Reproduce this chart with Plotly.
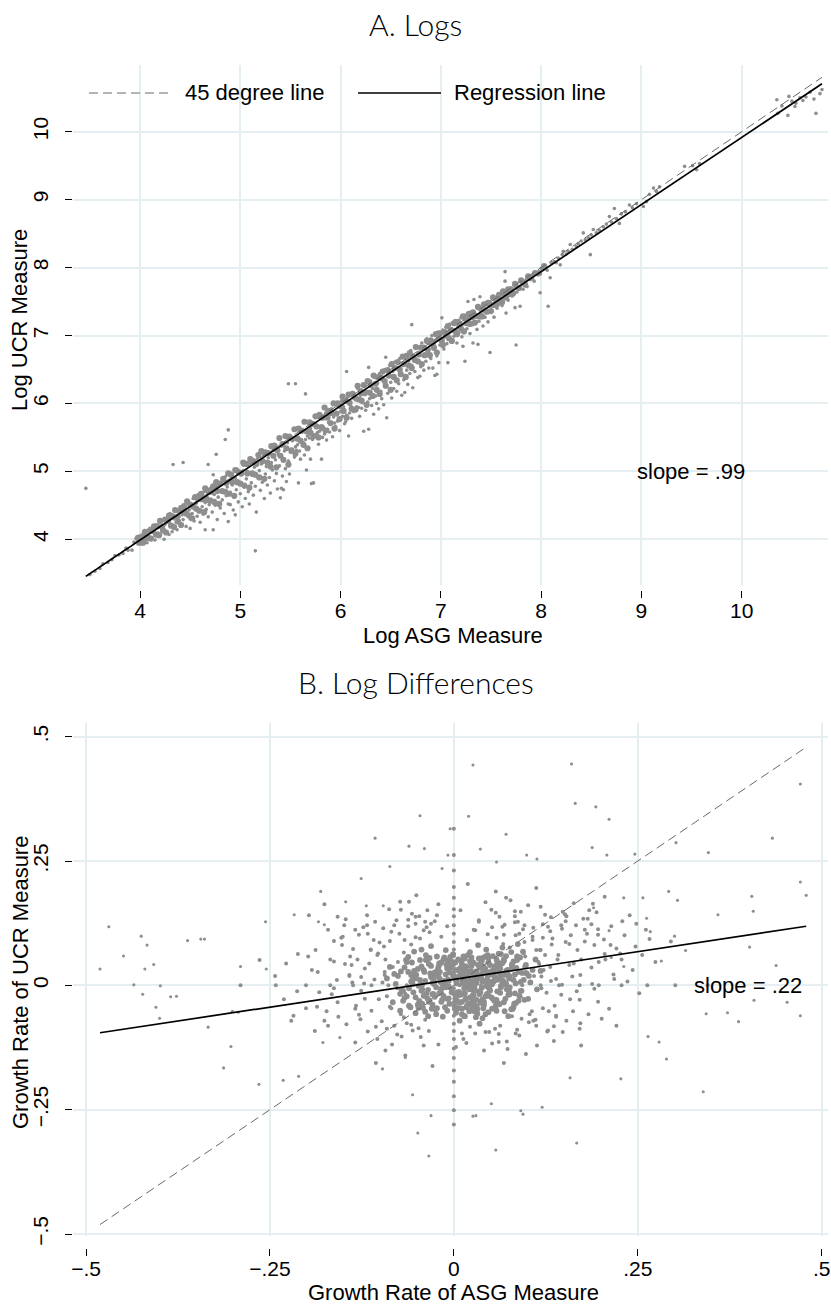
import plotly.graph_objects as go

# ---------------------------------------------------------------------------
# Panel A: log levels (ASG measure vs UCR measure)
# ---------------------------------------------------------------------------
log_asg_tail = [3.46, 3.50, 3.55, 3.60, 3.63, 3.68, 3.72, 3.75, 3.79, 3.83, 3.86, 3.88, 3.92, 3.94,
                3.96, 3.98, 4.00, 4.01, 4.03, 4.05, 4.06, 4.07, 4.09, 4.10, 4.12, 4.13, 4.15, 4.16,
                4.18, 4.19, 4.21, 4.22, 4.24, 4.25, 4.27, 4.28, 4.29, 4.88]
log_ucr_tail = [4.75, 3.48, 3.53, 3.57, 3.64, 3.66, 3.70, 3.76, 3.77, 3.79, 3.87, 3.84, 3.84, 3.96,
                4.01, 3.93, 4.05, 3.97, 4.08, 3.99, 4.12, 3.95, 4.04, 4.16, 4.02, 4.10, 3.99, 4.21,
                4.09, 4.05, 4.26, 4.13, 4.00, 4.22, 4.11, 4.33, 4.07, 5.61]

log_asg_low = [4.30, 4.31, 4.32, 4.33, 4.34, 4.35, 4.36, 4.37, 4.38, 4.39,
               4.40, 4.41, 4.42, 4.43, 4.43, 4.44, 4.45, 4.46, 4.47, 4.48,
               4.49, 4.50, 4.50, 4.51, 4.52, 4.53, 4.54, 4.55, 4.56, 4.57,
               4.58, 4.59, 4.60, 4.61, 4.62, 4.63, 4.64, 4.65, 4.65, 4.66,
               4.67, 4.68, 4.68, 4.69, 4.70, 4.71, 4.72, 4.73, 4.73, 4.74,
               4.75, 4.76, 4.76, 4.77, 4.78, 4.79, 4.80,
               4.81, 4.82, 4.83, 4.84, 4.85, 4.85, 4.86, 4.87, 4.88, 4.88,
               4.89, 4.90, 4.90, 4.91, 4.92, 4.93, 4.94, 4.95, 4.95, 4.96,
               4.97, 4.98, 4.99, 5.00, 5.01, 5.02, 5.03, 5.04, 5.05, 5.06,
               5.07, 5.08, 5.09, 5.10, 5.11, 5.12, 5.13, 5.14, 5.15, 5.15,
               5.16, 5.17, 5.18, 5.19, 5.20, 5.21, 5.22, 5.23, 5.24, 5.25,
               5.26, 5.27, 5.28, 5.29, 5.30, 5.31, 5.32, 5.33, 5.34, 5.35,
               5.36, 5.37, 5.38, 5.39, 5.40, 5.41, 5.41, 5.42, 5.43, 5.43,
               5.44, 5.45, 5.46, 5.47, 5.48, 5.48, 5.49, 5.50]
log_ucr_low = [4.38, 4.21, 4.11, 5.10, 4.30, 4.44, 4.25, 4.14, 4.40, 4.33,
               4.48, 4.22, 4.36, 5.13, 4.29, 4.50, 4.41, 4.19, 4.35, 4.55,
               4.43, 4.16, 4.30, 4.49, 4.38, 4.60, 4.27, 4.45, 4.53, 4.34,
               4.66, 4.42, 4.25, 4.57, 4.48, 4.37, 4.70, 4.14, 4.54, 4.44,
               4.62, 5.10, 4.33, 4.51, 4.75, 4.59, 4.40, 4.14, 4.95, 4.66,
               4.50, 5.25, 4.78, 4.29, 4.62, 4.71, 4.46,
               4.83, 4.58, 4.70, 4.38, 4.92, 5.47, 4.64, 4.77, 4.26, 4.52,
               4.86, 4.51, 4.69, 4.97, 4.80, 4.43, 4.62, 4.36, 4.90, 4.73,
               5.03, 4.55, 4.84, 4.67, 4.95, 4.48, 5.09, 4.77, 4.60, 4.89,
               5.00, 4.70, 4.52, 5.13, 4.83, 4.94, 4.65, 5.06, 3.83, 4.78,
               4.40, 5.18, 4.90, 5.01, 4.72, 5.11, 4.84, 5.25, 4.60, 4.96,
               5.07, 4.80, 5.20, 4.91, 4.68, 5.13, 5.02, 5.31, 4.86, 5.17,
               4.97, 4.74, 5.25, 5.08, 4.61, 4.75, 5.37, 4.93, 4.73, 5.19,
               5.30, 5.04, 4.85, 5.42, 6.29, 5.15, 4.96, 5.28]

log_asg_mid = [5.51, 5.52, 5.53, 5.54, 5.55, 5.55, 5.56, 5.57, 5.58, 5.58,
               5.59, 5.60, 5.61, 5.62, 5.63, 5.64, 5.65, 5.65, 5.66, 5.67,
               5.68, 5.69, 5.70, 5.70, 5.71, 5.72, 5.73, 5.74, 5.75, 5.76,
               5.77, 5.78, 5.79, 5.80, 5.81, 5.81, 5.82, 5.83, 5.84, 5.85,
               5.86, 5.87, 5.88, 5.89, 5.90, 5.91, 5.92, 5.93, 5.94, 5.95,
               5.96, 5.97, 5.98, 5.99, 6.00, 6.01, 6.02, 6.03, 6.04, 6.05,
               6.06, 6.06, 6.07, 6.08, 6.09, 6.10, 6.11, 6.12, 6.13, 6.14,
               6.15, 6.16, 6.17, 6.18, 6.19, 6.20, 6.21, 6.22, 6.23, 6.24,
               6.25, 6.26, 6.27, 6.28, 6.28, 6.29, 6.30,
               6.31, 6.32, 6.33, 6.34, 6.35, 6.36, 6.37, 6.38, 6.39, 6.40,
               6.41, 6.42, 6.43, 6.44, 6.45, 6.45, 6.46, 6.47, 6.48, 6.49,
               6.50, 6.51, 6.52, 6.53, 6.54, 6.55, 6.56, 6.57, 6.58, 6.59,
               6.60, 6.61, 6.62, 6.63, 6.64, 6.65, 6.66, 6.67, 6.68, 6.69,
               6.70, 6.71, 6.71, 6.72, 6.73, 6.74, 6.75, 6.76, 6.77, 6.78, 6.79,
               6.80, 6.81, 6.82, 6.83, 6.84, 6.85, 6.86, 6.87, 6.88, 6.89,
               6.90, 6.91, 6.92, 6.93, 6.94, 6.95, 6.96, 6.96, 6.97, 6.98, 6.99]
log_ucr_mid = [5.32, 5.45, 5.28, 5.21, 6.29, 5.36, 5.31, 5.39, 4.83, 5.50,
               5.30, 5.18, 5.43, 5.58, 5.42, 5.24, 6.14, 5.47, 5.02, 5.52,
               5.35, 5.49, 5.18, 5.63, 4.82, 5.47, 4.83, 5.52, 5.70, 5.55,
               5.57, 5.40, 5.59, 5.78, 5.62, 5.18, 5.50, 5.65, 5.55, 5.86,
               5.46, 5.62, 5.72, 5.58, 5.69, 5.92, 5.51, 5.80, 5.71, 5.66,
               5.98, 5.74, 5.75, 5.60, 5.88, 6.04, 5.81, 5.95, 5.70, 5.73,
               6.47, 5.83, 6.10, 5.52, 5.86, 5.97, 5.78, 6.16, 5.88, 5.91,
               6.05, 5.95, 6.22, 5.94, 5.81, 6.12, 5.93, 6.01, 5.59, 6.28,
               5.90, 6.18, 6.02, 6.53, 5.62, 6.07, 6.33,
               5.97, 6.22, 5.84, 6.38, 6.11, 6.00, 6.30, 5.92, 6.44, 6.18,
               6.07, 6.36, 5.98, 6.50, 6.68, 6.27, 5.79, 6.15, 6.42, 6.56,
               6.31, 6.08, 6.47, 6.22, 6.61, 6.37, 6.18, 6.53, 6.29, 6.66,
               6.43, 6.12, 6.58, 6.35, 6.16, 6.72, 6.49, 6.28, 6.63, 6.44,
               6.78, 7.16, 6.56, 6.23, 6.69, 6.47, 6.84, 6.61, 6.38, 6.75, 6.40,
               6.54, 6.89, 6.70, 6.49, 6.81, 6.62, 6.95, 6.74, 6.52, 6.87,
               6.66, 7.00, 6.52, 6.80, 6.41, 6.93, 6.70, 6.43, 7.05, 6.60, 6.86]

log_asg_high = [7.01, 7.01, 7.02, 7.03, 7.04, 7.05, 7.06, 7.07, 7.08, 7.09,
                7.10, 7.12, 7.13, 7.14, 7.16, 7.17, 7.18, 7.20, 7.21, 7.22,
                7.23, 7.24, 7.25, 7.26, 7.27, 7.28, 7.29, 7.30, 7.32, 7.32,
                7.33, 7.34, 7.36, 7.37, 7.37, 7.38, 7.39, 7.40, 7.42, 7.43,
                7.44, 7.46, 7.47, 7.49, 7.49, 7.50, 7.52, 7.53, 7.55, 7.56,
                7.58, 7.60, 7.61, 7.63, 7.64, 7.64, 7.65, 7.66, 7.67, 7.69,
                7.71, 7.72, 7.73, 7.74, 7.75, 7.75, 7.76, 7.78, 7.79, 7.80,
                7.82, 7.85, 7.86, 7.89, 7.91, 7.93, 7.95, 7.97, 7.99, 8.00,
                8.02, 8.04, 8.06, 8.07, 8.09, 8.10, 8.13, 8.15, 8.17, 8.19,
                8.21, 8.22, 8.25, 8.27, 8.29, 8.31, 8.35, 8.37, 8.40, 8.42,
                8.44, 8.47, 8.49, 8.50, 8.52, 8.55, 8.58, 8.62, 8.65, 8.68,
                8.70, 8.73, 8.75, 8.78, 8.80, 8.84, 8.88, 8.91, 8.95, 9.02,
                9.05, 9.08, 9.12, 9.15, 9.18,
                9.43, 9.51, 9.55, 9.58, 10.35, 10.36, 10.40, 10.46, 10.47, 10.50,
                10.53, 10.54, 10.58, 10.61, 10.64, 10.68, 10.72, 10.74, 10.78, 10.80]
log_ucr_high = [7.26, 6.95, 7.08, 6.80, 6.98, 7.12, 6.88, 6.60, 7.03, 7.17,
                6.92, 7.08, 6.99, 7.22, 6.89, 7.13, 7.04, 7.26, 6.98, 6.84,
                7.17, 6.62, 7.30, 7.10, 7.50, 7.22, 7.03, 7.34, 7.16, 6.89,
                7.53, 7.28, 7.09, 6.87, 7.40, 7.21, 7.57, 7.32, 7.14, 7.44,
                7.27, 7.38, 7.20, 6.75, 7.50, 7.35, 7.45, 7.27, 7.56, 7.40,
                7.50, 7.60, 7.44, 7.55, 7.94, 7.80, 7.33, 7.65, 7.52, 7.70,
                7.58, 7.63, 7.74, 7.41, 7.77, 6.86, 7.64, 7.71, 7.43, 7.79,
                7.68, 7.82, 7.72, 7.82, 7.88, 7.80, 7.92, 7.89, 7.63, 7.99,
                7.97, 8.01, 7.96, 7.43, 7.85, 8.07, 8.09, 8.07, 8.14, 8.04,
                8.19, 8.24, 8.20, 8.24, 8.34, 8.27, 8.31, 8.35, 8.39, 8.51,
                8.41, 8.44, 8.19, 8.48, 8.56, 8.51, 8.55, 8.60, 8.64, 8.75,
                8.67, 8.87, 8.72, 8.65, 8.79, 8.82, 8.92, 8.88, 8.94, 8.90,
                8.97, 9.08, 9.17, 9.12, 9.19,
                9.49, 9.50, 9.44, 9.53, 10.47, 10.27, 10.38, 10.24, 10.52, 10.45,
                10.37, 10.42, 10.50, 10.46, 10.51, 10.58, 10.48, 10.27, 10.56, 10.62]

# densely populated band hugging the diagonal
log_asg_band = [3.98, 4.00, 4.02, 4.03, 4.05, 4.06, 4.08, 4.10, 4.11, 4.13,
                4.14, 4.16, 4.17, 4.19, 4.20, 4.22, 4.23, 4.25, 4.26, 4.28,
                4.29, 4.31, 4.32, 4.34, 4.35, 4.37, 4.38, 4.40, 4.41, 4.43,
                4.44, 4.46, 4.47, 4.49, 4.50, 4.52, 4.53, 4.55, 4.56, 4.58,
                4.59, 4.61, 4.62, 4.64, 4.65, 4.67, 4.68, 4.70, 4.71, 4.73,
                4.74, 4.76, 4.77, 4.79, 4.80, 4.82, 4.83, 4.85, 4.86, 4.88,
                4.89, 4.91, 4.92, 4.94, 4.95, 4.97, 4.98, 5.00, 5.01, 5.03,
                5.04, 5.06, 5.07, 5.09, 5.10, 5.12, 5.13, 5.15, 5.16, 5.18,
                5.19, 5.21, 5.22, 5.24, 5.25, 5.27, 5.28, 5.30, 5.31, 5.33,
                5.34, 5.36, 5.37, 5.39, 5.40, 5.42, 5.43, 5.45, 5.46, 5.48,
                5.49, 5.51, 5.52, 5.54, 5.55, 5.57, 5.58, 5.60, 5.61, 5.63,
                5.64, 5.66, 5.67, 5.69, 5.70, 5.72, 5.73, 5.75, 5.76, 5.78,
                5.79, 5.81, 5.82, 5.84, 5.85, 5.87, 5.88, 5.90, 5.91, 5.93,
                5.94, 5.96, 5.97, 5.99, 6.00, 6.02, 6.03, 6.05, 6.06, 6.08,
                6.09, 6.11, 6.12, 6.14, 6.15, 6.17, 6.18, 6.20, 6.21, 6.23,
                6.24, 6.26, 6.27, 6.29, 6.30, 6.32, 6.33, 6.35, 6.36, 6.38,
                6.39, 6.41, 6.42, 6.44, 6.45, 6.47, 6.48, 6.50, 6.51, 6.53,
                6.54, 6.56, 6.57, 6.59, 6.60, 6.62, 6.63, 6.65, 6.66, 6.68,
                6.69, 6.71, 6.72, 6.74, 6.75, 6.77, 6.78, 6.80, 6.81, 6.83,
                6.84, 6.86, 6.87, 6.89, 6.90, 6.92, 6.93, 6.95, 6.96, 6.98,
                6.99, 7.01, 7.02, 7.04, 7.05, 7.07, 7.08, 7.10, 7.11, 7.13,
                7.14, 7.16, 7.17, 7.19, 7.20, 7.22, 7.23, 7.25, 7.26, 7.28,
                7.29, 7.31, 7.32, 7.34, 7.35, 7.37, 7.38, 7.40, 7.41, 7.43,
                7.44, 7.46, 7.47, 7.49, 7.50, 7.52, 7.53, 7.55, 7.56, 7.58,
                7.59, 7.61, 7.62, 7.64, 7.65, 7.67, 7.68, 7.70, 7.72, 7.74,
                7.76, 7.78, 7.80, 7.82, 7.84, 7.87, 7.90, 7.94, 7.98, 8.03]
log_ucr_band = [4.02, 3.95, 4.03, 3.95, 4.11, 4.04, 4.02, 4.13, 4.01, 4.13,
                4.19, 4.07, 4.19, 4.06, 4.27, 4.18, 4.13, 4.29, 4.10, 4.27,
                4.35, 4.20, 4.34, 4.18, 4.43, 4.33, 4.26, 4.43, 4.21, 4.41,
                4.49, 4.38, 4.56, 4.35, 4.51, 4.31, 4.48, 4.62, 4.45, 4.60,
                4.42, 4.67, 4.59, 4.40, 4.75, 4.58, 4.71, 4.57, 4.70, 4.78,
                4.55, 4.84, 4.71, 4.52, 4.82, 4.71, 4.89, 4.70, 4.83, 4.97,
                4.67, 4.95, 4.84, 4.64, 5.02, 4.84, 4.99, 4.82, 4.97, 5.13,
                4.79, 5.11, 4.97, 4.76, 5.18, 4.97, 5.15, 4.95, 5.11, 5.24,
                4.91, 5.30, 5.15, 4.89, 5.28, 5.13, 5.27, 5.07, 5.37, 5.23,
                5.38, 5.06, 5.31, 5.49, 5.23, 5.40, 5.17, 5.52, 5.34, 5.10,
                5.51, 5.31, 5.48, 5.62, 5.26, 5.48, 5.63, 5.45, 5.60, 5.39,
                5.73, 5.59, 5.34, 5.72, 5.57, 5.70, 5.52, 5.81, 5.66, 5.50,
                5.83, 5.65, 5.79, 5.94, 5.60, 5.79, 5.89, 5.71, 5.86, 6.00,
                5.63, 5.85, 6.00, 5.77, 5.96, 6.10, 5.89, 6.04, 5.79, 6.13,
                6.01, 5.92, 6.14, 6.09, 5.91, 6.26, 6.06, 6.18, 6.04, 6.27,
                6.15, 5.98, 6.33, 6.16, 6.27, 6.11, 6.41, 6.29, 6.20, 6.39,
                6.14, 6.37, 6.47, 6.33, 6.26, 6.49, 6.41, 6.20, 6.58, 6.39,
                6.52, 6.34, 6.61, 6.50, 6.43, 6.69, 6.58, 6.39, 6.67, 6.56,
                6.74, 6.52, 6.69, 6.64, 6.83, 6.62, 6.72, 6.82, 6.58, 6.82,
                6.71, 6.92, 6.79, 6.71, 6.93, 6.88, 6.82, 7.02, 6.75, 6.96,
                7.03, 6.92, 6.86, 7.05, 7.00, 7.14, 6.96, 7.08, 6.92, 7.18,
                7.07, 7.02, 7.20, 7.16, 7.10, 7.28, 7.06, 7.24, 7.18, 7.32,
                7.17, 7.27, 7.34, 7.19, 7.29, 7.42, 7.28, 7.39, 7.28, 7.46,
                7.37, 7.35, 7.48, 7.45, 7.36, 7.56, 7.45, 7.53, 7.46, 7.60,
                7.53, 7.49, 7.65, 7.61, 7.56, 7.68, 7.61, 7.68, 7.62, 7.76,
                7.71, 7.70, 7.81, 7.78, 7.75, 7.87, 7.85, 7.92, 7.92, 8.02]

log_slope, log_intercept = 0.988, 0.036
log_ticks = [4, 5, 6, 7, 8, 9, 10]

# ---------------------------------------------------------------------------
# Panel B: log differences (growth rates)
# ---------------------------------------------------------------------------
gr_asg_core = [0.012, -0.021, 0.034, 0.006, -0.043, 0.051, -0.009, 0.027, -0.031, 0.064,
               0.018, -0.056, 0.041, -0.014, 0.073, -0.067, 0.003, 0.058, -0.038, 0.022,
               -0.025, 0.047, 0.081, -0.072, 0.009, -0.003, 0.031, -0.049, 0.068, 0.015,
               -0.018, 0.038, 0.055, -0.061, 0.026, -0.034, 0.076, 0.002, -0.011, 0.044,
               0.093, -0.079, 0.061, 0.029, -0.046, 0.017, -0.028, 0.052, 0.086, -0.007,
               0.036, -0.052, 0.071, 0.011, -0.019, 0.043, -0.064, 0.098, 0.024, -0.039,
               0.005, 0.063, -0.026, 0.049, -0.073, 0.084, 0.019, -0.012, 0.033, -0.087,
               0.104, -0.004, 0.057, -0.035, 0.039, 0.091, -0.058, 0.013, 0.069, -0.017,
               0.028, -0.044, 0.046, 0.078, -0.023, 0.008, 0.111, -0.069, 0.037, -0.001,
               0.054, 0.021, -0.041, 0.066, -0.083, 0.101, 0.016, -0.031, 0.074, -0.006,
               0.042, -0.054, 0.087, 0.031, -0.015, 0.059, -0.091, 0.118, 0.004, -0.048,
               0.023, 0.062, -0.027, 0.094, 0.047, -0.062, 0.011, 0.079, -0.008, 0.035,
               0.007, 0.029, -0.016, 0.044, -0.002, 0.021, 0.056, -0.029, 0.035, 0.014,
               -0.037, 0.063, 0.001, 0.048, -0.022, 0.027, 0.072, -0.047, 0.011, 0.039,
               -0.011, 0.053, 0.019, -0.058, 0.083, 0.004, -0.032, 0.032, 0.066, -0.006,
               0.024, -0.042, 0.046, 0.089, -0.019, 0.016, 0.058, -0.071, 0.036, 0.009,
               -0.026, 0.075, 0.003, 0.041, -0.051, 0.068, 0.022, -0.009, 0.097, 0.013,
               -0.034, 0.052, -0.064, 0.030, 0.081, -0.004, 0.045, -0.018, 0.062, 0.017,
               -0.045, 0.008, 0.038, -0.013, 0.071, -0.076, 0.026, 0.049, -0.029, 0.091,
               0.002, 0.034, -0.055, 0.059, 0.018, -0.021, 0.078, -0.039, 0.043, 0.011,
               0.055, -0.008, 0.026, -0.067, 0.086, 0.039, -0.024, 0.064, 0.006, -0.041,
               0.102, 0.031, -0.014, 0.047, -0.059, 0.073, 0.015, -0.031, 0.057, 0.024,
               -0.003, 0.067, -0.048, 0.037, 0.092, 0.012, -0.036, 0.051, 0.019, -0.017,
               0.079, 0.028, -0.062, 0.044, 0.005, 0.061, -0.027, 0.096, 0.033, -0.011,
               0.048, 0.016, -0.043, 0.069, 0.022, -0.005, 0.084, -0.052, 0.038, 0.009,
               0.058, -0.020, 0.027, 0.074, -0.038, 0.041, 0.003, 0.064, -0.069, 0.018,
               0.035, -0.009, 0.052, -0.030, 0.088, 0.011, 0.045, -0.015, 0.070, 0.023,
               -0.046, 0.062, 0.004, 0.033, -0.024, 0.081, 0.017, -0.057, 0.049, 0.028,
               -0.001, 0.057, -0.035, 0.076, 0.013, 0.040, -0.019, 0.095, 0.029, -0.052,
               0.066, 0.008, 0.043, -0.028, 0.019, 0.082, -0.007, 0.054, -0.044, 0.031,
               0.107, -0.073, 0.025, 0.060, -0.012, 0.039, 0.014, -0.033, 0.076, 0.002,
               0.050, -0.023, 0.085, 0.020, -0.056, 0.032, 0.065, -0.007, 0.043, 0.113,
               -0.040, 0.010, 0.055, -0.017, 0.071, 0.026, -0.065, 0.047, 0.006, 0.090,
               0.037, -0.029, 0.063, 0.015, -0.049, 0.078, 0.021, -0.010, 0.058, 0.030,
               -0.081, 0.045, 0.003, 0.068, -0.025, 0.036, 0.099, -0.044, 0.012, 0.059,
               0.025, -0.014, 0.083, 0.040, -0.061, 0.016, 0.053, -0.002, 0.070, 0.034,
               -0.033, 0.088, 0.009, 0.047, -0.020, 0.064, 0.022, -0.054, 0.039, 0.075]
gr_ucr_core = [0.004, 0.018, -0.012, 0.031, -0.008, 0.022, -0.027, 0.045, 0.039, -0.004,
               -0.041, 0.012, 0.009, 0.052, 0.031, -0.025, -0.055, -0.029, 0.061, 0.067,
               -0.048, 0.054, 0.011, 0.028, 0.021, -0.014, 0.027, 0.033, 0.049, -0.062,
               0.007, -0.031, 0.038, -0.041, -0.019, -0.033, -0.018, 0.046, 0.071, 0.072,
               0.025, 0.003, 0.064, 0.012, 0.051, 0.038, -0.017, -0.047, 0.058, 0.009,
               0.043, -0.056, 0.004, -0.033, 0.043, -0.058, 0.047, 0.041, 0.056, 0.009,
               -0.021, 0.019, 0.026, -0.009, -0.051, -0.036, 0.015, -0.044, 0.081, 0.037,
               0.006, 0.036, 0.029, -0.062, -0.066, -0.011, 0.021, 0.058, -0.052, -0.007,
               -0.004, 0.072, 0.061, 0.067, 0.058, -0.071, 0.052, -0.011, 0.016, 0.063,
               0.008, -0.052, -0.021, 0.076, -0.034, -0.027, 0.001, 0.079, -0.062, 0.026,
               0.034, 0.068, 0.083, -0.043, -0.063, 0.047, 0.014, 0.029, 0.011, -0.045,
               0.029, -0.038, 0.003, 0.068, -0.021, 0.057, -0.017, 0.042, 0.049, -0.077,
               -0.013, 0.016, -0.029, -0.001, 0.024, -0.036, 0.013, 0.006, 0.037, -0.006,
               -0.016, 0.034, -0.042, 0.026, 0.031, -0.021, -0.008, -0.031, 0.043, 0.008,
               -0.004, -0.027, 0.027, 0.008, 0.022, 0.004, 0.024, -0.048, 0.045, -0.037,
               0.009, -0.045, 0.018, -0.021, 0.013, -0.026, 0.052, -0.009, -0.014, 0.035,
               -0.023, 0.014, 0.017, -0.039, 0.021, -0.034, 0.048, -0.051, 0.038, 0.021,
               0.043, 0.003, -0.022, 0.028, -0.044, 0.041, -0.017, -0.012, 0.027, -0.044,
               0.002, 0.029, -0.005, 0.056, 0.059, 0.019, -0.031, 0.041, -0.039, 0.007,
               -0.027, 0.054, -0.014, -0.012, 0.002, 0.037, 0.033, -0.053, 0.032, -0.058,
               0.018, 0.012, -0.009, 0.036, 0.051, -0.028, -0.004, -0.001, 0.052, 0.031,
               0.019, 0.005, -0.021, 0.046, -0.044, 0.024, -0.016, 0.017, -0.041, 0.039,
               -0.008, 0.009, -0.001, 0.021, -0.011, 0.028, -0.026, -0.024, 0.061, 0.046,
               0.041, -0.039, 0.027, 0.006, -0.032, 0.037, 0.009, -0.029, 0.014, 0.022,
               -0.006, 0.032, -0.037, 0.021, -0.024, 0.057, 0.004, 0.014, 0.049, -0.019,
               -0.051, -0.016, 0.022, -0.019, 0.051, -0.033, 0.009, 0.063, -0.031, 0.017,
               -0.018, 0.034, 0.029, -0.047, 0.027, -0.047, 0.011, 0.002, -0.027, 0.025,
               0.011, 0.016, -0.014, 0.041, -0.058, 0.048, 0.007, 0.046, -0.011, -0.052,
               0.019, 0.038, -0.009, -0.004, 0.039, -0.046, 0.027, 0.011, -0.011, -0.024,
               0.005, -0.035, 0.058, 0.014, -0.003, -0.037, -0.026, 0.022, 0.038, -0.029,
               0.031, -0.017, 0.047, -0.036, 0.005, 0.025, -0.062, 0.055, 0.018, 0.031,
               0.007, -0.046, 0.035, 0.015, 0.003, -0.057, 0.044, -0.002, -0.022, -0.008,
               0.027, 0.049, -0.031, -0.033, 0.029, 0.003, 0.051, -0.004, -0.046, 0.056,
               0.035, -0.018, -0.015, 0.054, -0.039, -0.048, -0.008, 0.041, 0.011, -0.064,
               0.023, 0.026, -0.021, 0.052, 0.021, -0.035, 0.024, -0.011, 0.013, 0.031,
               -0.045, 0.009, -0.016, 0.038, -0.006, -0.029, 0.059, 0.047, 0.002, 0.019,
               -0.030, -0.031, 0.026, -0.054, 0.044, 0.012, -0.001, 0.029, 0.055, -0.012]

gr_asg_halo = [-0.121, 0.142, -0.098, 0.167, -0.152, 0.128, -0.074, 0.187, -0.133, 0.153,
               -0.108, 0.121, 0.204, -0.166, 0.096, -0.087, 0.139, -0.117, 0.176, -0.141,
               0.061, -0.045, 0.083, -0.062, 0.112, 0.228, -0.185, 0.159, -0.102, 0.196,
               -0.078, 0.034, -0.023, 0.072, -0.129, 0.247, -0.201, 0.133, 0.013, -0.056,
               0.168, -0.157, 0.107, -0.093, 0.214, -0.171, 0.051, 0.092, -0.138, 0.183,
               -0.212, 0.236, 0.118, -0.039, 0.003, -0.084, 0.148, 0.261, -0.243, 0.077,
               -0.118, 0.194, -0.066, 0.041, 0.131, -0.189, 0.221, 0.163, -0.147, 0.109,
               -0.231, 0.274, 0.057, -0.021, 0.098, -0.106, 0.205, -0.176, 0.146, -0.051,
               0.188, -0.094, 0.126, -0.134, 0.239, -0.264, 0.019, 0.173, -0.029, 0.084,
               0.295, -0.197, 0.112, -0.073, 0.157, -0.159, 0.068, 0.252, -0.221, 0.027,
               -0.085, 0.095, -0.113, 0.137, 0.066, -0.067, 0.117, -0.048, 0.152, -0.126,
               0.106, -0.096, 0.089, -0.139, 0.178, 0.124, -0.077, 0.161, 0.058, -0.104,
               0.086, -0.057, 0.148, 0.205, -0.163, 0.115, 0.043, -0.033, 0.171, -0.088,
               0.232, -0.183, 0.062, 0.136, -0.118, 0.191, 0.009, -0.146, 0.217, -0.009,
               -0.142, 0.173, -0.112, 0.158, -0.095, 0.121, -0.068, 0.196, -0.127, 0.139,
               -0.163, 0.108, 0.221, -0.186, 0.083, -0.081, 0.147, -0.104, 0.184, -0.153,
               0.073, -0.041, 0.101, -0.052, 0.127, 0.243, -0.198, 0.166, -0.091, 0.211,
               -0.072, 0.052, -0.031, 0.084, -0.137, 0.266, -0.218, 0.118, 0.029, -0.064,
               0.157, -0.171, 0.096, -0.115, 0.229, -0.149, 0.043, 0.103, -0.126, 0.172,
               -0.193, 0.218, 0.132, -0.052, 0.017, -0.093, 0.136, 0.248, -0.228, 0.091,
               -0.107, 0.182, -0.077, 0.061, 0.141, -0.176, 0.201, 0.151, -0.134, 0.122,
               -0.213, 0.256, 0.071, -0.036, 0.113, -0.091, 0.189, -0.158, 0.131, -0.061,
               -0.131, 0.112, -0.087, 0.146, -0.058, 0.094, -0.109, 0.163, -0.072, 0.129,
               -0.097, 0.079, 0.178, -0.121, 0.068, -0.046, 0.119, -0.081, 0.152, -0.113,
               0.056, -0.034, 0.087, -0.041, 0.102, 0.197, -0.148, 0.134, -0.066, 0.171,
               -0.052, 0.046, -0.017, 0.063, -0.103, 0.213, -0.158, 0.097, 0.022, -0.039,
               0.124, -0.129, 0.076, -0.083, 0.181, -0.117, 0.034, 0.081, -0.094, 0.139,
               -0.142, 0.172, 0.108, -0.037, 0.011, -0.071, 0.111, 0.196, -0.168, 0.069,
               -0.085, 0.147, -0.058, 0.048, 0.116, -0.134, 0.162, 0.121, -0.101, 0.098,
               -0.163, 0.206, 0.057, -0.026, 0.089, -0.068, 0.153, -0.123, 0.107, -0.047,
               0.132, -0.076, 0.091, -0.106, 0.187, -0.188, 0.029, 0.128, -0.021, 0.067,
               0.226, -0.151, 0.083, -0.062, 0.119, -0.122, 0.052, 0.191, -0.173, 0.018]
gr_ucr_halo = [0.034, 0.061, -0.072, -0.012, 0.081, 0.118, 0.104, 0.036, -0.041, -0.071,
               0.012, -0.046, 0.092, -0.018, 0.121, 0.089, 0.013, -0.093, 0.134, 0.058,
               -0.098, -0.104, 0.139, 0.119, -0.081, 0.052, 0.027, 0.101, -0.028, -0.033,
               0.131, 0.128, 0.141, -0.113, 0.102, 0.078, -0.046, 0.082, -0.108, -0.091,
               0.071, -0.063, 0.098, 0.052, 0.119, 0.112, 0.152, -0.067, 0.006, -0.058,
               0.063, 0.008, 0.158, 0.128, -0.124, -0.119, -0.094, 0.112, 0.019, 0.171,
               0.141, 0.147, -0.141, -0.131, 0.037, -0.092, -0.081, 0.165, 0.133, 0.019,
               -0.028, 0.047, 0.189, 0.163, -0.138, -0.156, 0.178, 0.163, 0.121, 0.181,
               0.003, 0.027, -0.015, -0.115, 0.141, 0.051, 0.204, -0.121, -0.162, 0.101,
               0.088, 0.141, 0.196, 0.168, 0.041, 0.011, -0.156, -0.016, -0.071, 0.112,
               -0.046, 0.064, 0.072, -0.041, 0.118, 0.091, 0.071, -0.086, 0.087, -0.011,
               -0.052, 0.115, 0.104, 0.041, 0.112, 0.142, -0.006, 0.018, 0.096, 0.061,
               -0.089, 0.144, 0.148, 0.063, 0.089, 0.047, -0.094, 0.107, -0.087, 0.153,
               0.101, -0.014, 0.138, -0.112, 0.121, 0.081, 0.151, -0.078, 0.022, 0.119,
               0.021, 0.052, -0.051, -0.028, 0.078, 0.096, 0.066, 0.102, -0.068, -0.061,
               0.048, -0.071, 0.074, -0.043, 0.127, 0.121, 0.001, -0.108, 0.151, 0.096,
               -0.128, -0.121, 0.161, 0.097, -0.093, 0.031, 0.058, 0.121, -0.022, -0.047,
               0.152, 0.117, 0.124, -0.097, 0.073, 0.093, -0.061, 0.071, -0.097, -0.076,
               0.083, -0.081, 0.087, 0.044, 0.129, 0.121, 0.167, -0.058, 0.017, -0.076,
               0.031, 0.013, 0.137, 0.138, -0.116, -0.131, -0.082, 0.124, 0.044, 0.148,
               0.128, 0.134, -0.099, -0.114, 0.052, -0.071, -0.067, 0.143, 0.112, 0.031,
               -0.012, 0.061, 0.176, 0.151, -0.121, -0.087, 0.164, 0.138, 0.109, 0.168,
               0.052, 0.071, -0.043, -0.019, 0.082, 0.113, 0.091, 0.044, -0.058, -0.052,
               0.006, -0.062, 0.088, -0.027, 0.102, 0.094, -0.006, -0.081, 0.129, 0.071,
               -0.087, -0.092, 0.128, 0.111, -0.074, 0.047, 0.043, 0.094, -0.017, -0.029,
               0.124, 0.103, 0.098, -0.081, 0.064, 0.081, -0.034, 0.058, -0.083, -0.069,
               0.061, -0.059, 0.076, 0.037, 0.104, 0.104, 0.131, -0.049, 0.021, -0.063,
               0.019, 0.021, 0.116, 0.117, -0.097, -0.103, -0.069, 0.113, 0.052, 0.122,
               0.108, 0.114, -0.079, -0.094, 0.043, -0.047, -0.052, 0.123, 0.086, 0.027,
               -0.006, 0.052, 0.146, 0.129, -0.101, -0.064, 0.139, 0.117, 0.091, 0.139,
               0.009, 0.047, -0.023, -0.083, 0.123, 0.071, 0.111, -0.091, -0.119, 0.083,
               0.064, 0.098, 0.149, 0.132, 0.018, 0.004, -0.117, -0.007, -0.052, 0.091]

# observations with no change in one of the two measures
gr_ucr_at_zero_asg = [0.315, 0.262, 0.231, 0.198, 0.176, 0.153, 0.139, 0.121, 0.104, 0.087,
                      0.072, 0.059, 0.041, 0.024, 0.013, -0.006, -0.019, -0.034, -0.048, -0.061,
                      -0.077, -0.092, -0.108, -0.127, -0.146, -0.171, -0.194, -0.223, -0.251, -0.280]
gr_asg_at_zero_ucr = [-0.290, -0.242, -0.201, -0.168, -0.137, -0.112, -0.089, -0.064, -0.042, -0.026,
                      -0.013, 0.008, 0.021, 0.037, 0.052, 0.071, 0.093, 0.118, 0.143, 0.171,
                      0.197, 0.228, 0.263, 0.301, 0.345]

gr_asg_tail = [0.026, 0.160, 0.471, -0.046, 0.020, 0.165, 0.193, 0.211, 0.071, -0.107,
               0.433, -0.061, -0.005, -0.008, 0.036, -0.040, 0.099, 0.113, 0.188, 0.208,
               0.246, 0.302, 0.346, -0.016, 0.058, -0.087, -0.126, 0.471, -0.181, 0.405,
               0.257, 0.292, 0.407, 0.359, -0.256, -0.147, -0.096, -0.119, -0.217, -0.184,
               -0.176, -0.469, -0.417, -0.344, -0.339, -0.362, -0.449, -0.420, -0.481, -0.290,
               -0.255, -0.408, -0.425, -0.435, -0.399, -0.377, -0.423, -0.385, -0.405, -0.301,
               -0.334, -0.400, -0.293, -0.313, -0.303, -0.265, -0.232, -0.211, -0.155, -0.178,
               -0.097, -0.066, -0.056, -0.049, -0.034, 0.026, 0.030, 0.057, 0.091, 0.167,
               0.094, -0.031, 0.120, 0.051, 0.158, 0.227, 0.289, 0.339, 0.279, 0.264,
               0.343, 0.387, 0.372, 0.471, 0.453, 0.408, 0.402, 0.438, 0.315, 0.282,
               0.267, 0.300, 0.214, 0.231, 0.211, 0.262, 0.190, 0.231, 0.479, 0.304]
gr_ucr_tail = [0.443, 0.445, 0.405, 0.341, 0.340, 0.366, 0.359, 0.334, 0.304, 0.296,
               0.296, 0.280, 0.315, 0.262, 0.274, 0.275, 0.262, 0.254, 0.277, 0.262,
               0.264, 0.287, 0.267, 0.235, 0.248, 0.239, 0.215, 0.208, 0.189, 0.179,
               0.176, 0.189, 0.149, 0.142, 0.128, 0.168, 0.160, 0.160, 0.142, 0.128,
               0.122, 0.118, 0.081, 0.093, 0.093, 0.090, 0.059, 0.033, 0.033, 0.038,
               0.033, 0.042, 0.099, 0.001, -0.001, -0.022, -0.018, -0.023, -0.044, -0.052,
               -0.084, -0.066, -0.054, -0.166, -0.123, -0.199, -0.191, -0.183, -0.105, -0.115,
               -0.168, -0.145, -0.220, -0.297, -0.343, -0.263, -0.262, -0.331, -0.252, -0.317,
               -0.259, -0.262, -0.245, -0.238, -0.186, -0.188, -0.148, -0.214, -0.114, -0.103,
               -0.057, -0.073, -0.055, -0.061, -0.034, -0.030, 0.077, 0.040, 0.070, 0.049,
               0.108, 0.099, 0.056, 0.038, 0.110, 0.135, 0.156, 0.176, 0.181, 0.171,
               0.064, 0.310]

diff_slope, diff_intercept = 0.223, 0.012
diff_ticks = [-0.5, -0.25, 0, 0.25, 0.5]
diff_tick_text = ["\u2212.5", "\u2212.25", "0", ".25", ".5"]

# ---------------------------------------------------------------------------
# assemble series: dense cores get slightly larger dots so they read as solid
# ---------------------------------------------------------------------------
log_asg_sparse = log_asg_tail + log_asg_low + log_asg_mid + log_asg_high
log_ucr_sparse = log_ucr_tail + log_ucr_low + log_ucr_mid + log_ucr_high
log_asg = log_asg_sparse + log_asg_band

gr_asg_spread = gr_asg_halo + [0.0] * len(gr_ucr_at_zero_asg) + gr_asg_at_zero_ucr
gr_ucr_spread = gr_ucr_halo + gr_ucr_at_zero_asg + [0.0] * len(gr_asg_at_zero_ucr)
gr_asg = gr_asg_core + gr_asg_spread + gr_asg_tail

W, H = 831, 1306


def px_x(p):
    return p / W


def px_y(p):
    return 1 - p / H


SANS = "Liberation Sans, Arial, Helvetica, sans-serif"
TITLE_FAMILY = "Lato, Noto Sans, sans-serif"
DOT = "#8e8e8e"
GRID = "#e5eef0"

fig = go.Figure()


def dots(x, y, size, xa, ya):
    return go.Scatter(x=x, y=y, mode="markers", marker=dict(size=size, color=DOT),
                      xaxis=xa, yaxis=ya, showlegend=False, hoverinfo="skip")


# Panel A
fig.add_trace(dots(log_asg_band, log_ucr_band, 6.2, "x", "y"))
fig.add_trace(dots(log_asg_sparse, log_ucr_sparse, 3.6, "x", "y"))
xa0, xa1 = min(log_asg), max(log_asg)
fig.add_trace(go.Scatter(x=[xa0, xa1], y=[xa0, xa1], mode="lines",
                         line=dict(color="#6a6a6a", width=1, dash="9px,5px"),
                         xaxis="x", yaxis="y", showlegend=False))
fig.add_trace(go.Scatter(x=[xa0, xa1],
                         y=[log_intercept + log_slope * xa0, log_intercept + log_slope * xa1],
                         mode="lines", line=dict(color="black", width=1.7),
                         xaxis="x", yaxis="y", showlegend=False))

# Panel B
fig.add_trace(dots(gr_asg_core, gr_ucr_core, 5.8, "x2", "y2"))
fig.add_trace(dots(gr_asg_spread, gr_ucr_spread, 4.0, "x2", "y2"))
fig.add_trace(dots(gr_asg_tail, gr_ucr_tail, 3.1, "x2", "y2"))
xb0, xb1 = min(gr_asg), max(gr_asg)
fig.add_trace(go.Scatter(x=[xb0, xb1], y=[xb0, xb1], mode="lines",
                         line=dict(color="#6a6a6a", width=1, dash="9px,5px"),
                         xaxis="x2", yaxis="y2", showlegend=False))
fig.add_trace(go.Scatter(x=[xb0, xb1],
                         y=[diff_intercept + diff_slope * xb0, diff_intercept + diff_slope * xb1],
                         mode="lines", line=dict(color="black", width=1.7),
                         xaxis="x2", yaxis="y2", showlegend=False))

axis_style = dict(showgrid=True, gridcolor=GRID, gridwidth=1.5, zeroline=False,
                  showline=False, ticks="outside", ticklen=7, tickwidth=1.2,
                  tickcolor="black", tickfont=dict(family=SANS, size=21, color="black"),
                  automargin=False)
label_font = dict(family=SANS, size=22, color="black")

fig.update_layout(
    width=W, height=H, margin=dict(l=0, r=0, t=0, b=0),
    paper_bgcolor="white", plot_bgcolor="white", showlegend=False,
    xaxis=dict(axis_style, domain=[px_x(73), px_x(828)], range=[3.332, 10.86],
               tickvals=log_ticks, anchor="free", position=px_y(590),
               ticklabelstandoff=-5),
    yaxis=dict(axis_style, domain=[px_y(585), px_y(65)], range=[3.327, 10.982],
               tickvals=log_ticks, tickangle=-90, anchor="x", ticklabelstandoff=9),
    xaxis2=dict(axis_style, domain=[px_x(73), px_x(828)], range=[-0.5177, 0.5086],
                tickvals=diff_ticks, ticktext=diff_tick_text, anchor="free",
                position=px_y(1248), ticklabelstandoff=-5),
    yaxis2=dict(axis_style, domain=[px_y(1236), px_y(722.7)], range=[-0.504, 0.5282],
                tickvals=diff_ticks, ticktext=diff_tick_text, tickangle=-90, anchor="x2",
                ticklabelstandoff=9),
)

# Legend for panel A, drawn on a white box over the grid
shapes = [
    dict(type="rect", xref="paper", yref="paper", x0=px_x(80), x1=px_x(616),
         y0=px_y(113), y1=px_y(72), fillcolor="white", line=dict(width=0), layer="between"),
    dict(type="line", xref="paper", yref="paper", x0=px_x(89), x1=px_x(172),
         y0=px_y(93), y1=px_y(93), line=dict(color="#6a6a6a", width=1, dash="9px,5px")),
    dict(type="line", xref="paper", yref="paper", x0=px_x(358), x1=px_x(441),
         y0=px_y(93), y1=px_y(93), line=dict(color="black", width=1.3)),
]
fig.update_layout(shapes=shapes)


def paper_text(text, x, y, **kw):
    base = dict(text=text, xref="paper", yref="paper", x=px_x(x), y=px_y(y),
                xanchor="center", yanchor="middle", showarrow=False, font=label_font)
    base.update(kw)
    return base


title_font = dict(family=TITLE_FAMILY, size=30, color="black", weight=300)
annotations = [
    paper_text("45 degree line", 183, 93, xanchor="left"),
    paper_text("Regression line", 452, 93, xanchor="left"),
    dict(text="slope = .99", xref="x", yref="y", x=8.94, y=5,
         xanchor="left", yanchor="middle", showarrow=False, font=label_font),
    dict(text="slope = .22", xref="x2", yref="y2", x=0.476, y=0,
         xanchor="right", yanchor="middle", showarrow=False, font=label_font),
    # axis titles
    paper_text("Log ASG Measure", 453, 635),
    paper_text("Log UCR Measure", 19, 320, textangle=-90),
    paper_text("Growth Rate of ASG Measure", 453, 1292),
    paper_text("Growth Rate of UCR Measure", 20, 983, textangle=-90),
    # panel titles
    paper_text("A. Logs", 415.5, 24, font=title_font),
    paper_text("B. Log Differences", 415.5, 682, font=title_font),
]
fig.update_layout(annotations=annotations)

fig.write_html("out.html")
